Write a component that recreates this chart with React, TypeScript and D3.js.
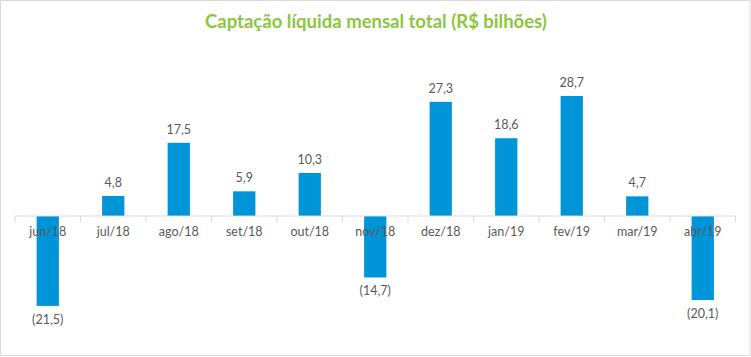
import React from "react";
import * as d3 from "d3";

const categories = ["jun/18","jul/18","ago/18","set/18","out/18","nov/18","dez/18","jan/19","fev/19","mar/19","abr/19"];
const values = [-21.5, 4.8, 17.5, 5.9, 10.3, -14.7, 27.3, 18.6, 28.7, 4.7, -20.1];
const valueLabels = ["(21,5)","4,8","17,5","5,9","10,3","(14,7)","27,3","18,6","28,7","4,7","(20,1)"];
const title = "Captação líquida mensal total (R$ bilhões)";

const W = 751, H = 357;
const FONT = "Lato, 'Open Sans', sans-serif";

export default function App() {
  const x = d3.scaleBand<string>().domain(categories).range([15, 735.5]).paddingInner(0.66).paddingOuter(0.33);
  const y = d3.scaleLinear().domain([0, 28.7]).range([216, 96]);
  const step = x.step();
  const ticks = d3.range(categories.length + 1).map(i => 15 + i * step);
  return (
    <svg width={W} height={H} style={{ position: "absolute", left: 0, top: 0, background: "#fff" }}>
      <rect x={0.5} y={0.5} width={W - 1.5} height={H - 2} fill="#fff" stroke="#d9d9d9" />
      <text x={376} y={28} textAnchor="middle" fontFamily={FONT} fontWeight="bold" fontSize={18.5} fill="#8cc63f">{title}</text>
      {values.map((v, i) => {
        const cx = x(categories[i])!;
        const y0 = y(0), y1 = y(v);
        return (
          <rect key={i} x={cx} width={x.bandwidth()} y={Math.min(y0, y1)} height={Math.abs(y1 - y0)} fill="#0095d9" />
        );
      })}
      <line x1={15} x2={735.5} y1={216} y2={216} stroke="#d9d9d9" strokeWidth={1} />
      {ticks.map((t, i) => (
        <line key={i} x1={t} x2={t} y1={216} y2={222} stroke="#d9d9d9" />
      ))}
      {categories.map((c) => (
        <text key={c} x={x(c)! + x.bandwidth() / 2} y={236} textAnchor="middle" fontFamily={FONT} fontSize={12.5} fill="#595959">{c}</text>
      ))}
      {values.map((v, i) => {
        const cx = x(categories[i])! + x.bandwidth() / 2;
        const ty = v >= 0 ? y(v) - 9 : y(v) + 18;
        return (
          <text key={i} x={cx} y={ty} textAnchor="middle" fontFamily={FONT} fontSize={12.5} fill="#595959">{valueLabels[i]}</text>
        );
      })}
    </svg>
  );
}
